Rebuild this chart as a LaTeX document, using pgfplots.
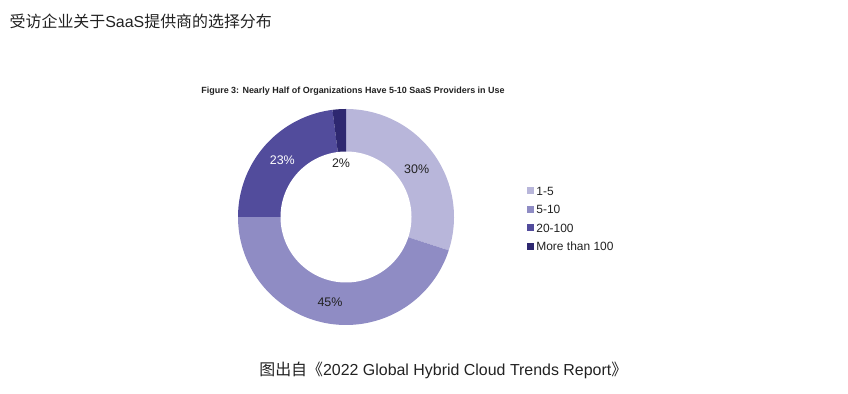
\documentclass[border=0pt]{standalone}
\usepackage{fontspec}
\setmainfont{Liberation Sans}
\newfontfamily\cjk{Noto Sans CJK SC}
\usepackage{pgfplots}
\usepackage{pgfplotstable}
\pgfplotsset{compat=1.18}
\definecolor{c1}{HTML}{B8B6DA}
\definecolor{c2}{HTML}{8F8CC4}
\definecolor{c3}{HTML}{524C9C}
\definecolor{c4}{HTML}{2E2870}
\definecolor{txt}{HTML}{222222}
\pgfplotstableread[col sep=comma]{
label,value
1-5,30
5-10,45
20-100,23
More than 100,2
}\shares
\begin{document}%
\begin{tikzpicture}
\pgfplotstablegetelem{0}{value}\of\shares \let\va\pgfplotsretval
\pgfplotstablegetelem{1}{value}\of\shares \let\vb\pgfplotsretval
\pgfplotstablegetelem{2}{value}\of\shares \let\vc\pgfplotsretval
\pgfplotstablegetelem{3}{value}\of\shares \let\vd\pgfplotsretval
\pgfmathsetmacro\aA{90}
\pgfmathsetmacro\aB{\aA-3.6*\va}
\pgfmathsetmacro\aC{\aB-3.6*\vb}
\pgfmathsetmacro\aD{\aC-3.6*\vc}
\pgfmathsetmacro\aE{\aD-3.6*\vd}
\def\cx{346}\def\cy{177}\def\R{108}\def\r{65.5}
\useasboundingbox (0,0) rectangle (848bp,394bp);
\begin{axis}[
  scale only axis, width=848bp, height=394bp,
  xmin=0, xmax=848, ymin=0, ymax=394,
  hide axis, clip=false, anchor=south west, at={(0,0)},
  legend cell align=left,
  legend image code/.code={\fill[#1] (0bp,-3.5bp) rectangle (7bp,3.5bp);},
  legend style={at={(0.6211,0.4458)}, anchor=west, draw=none, fill=none,
    inner sep=0pt, row sep=9.5bp, column sep=2.5bp,
    font=\fontsize{12}{12}\selectfont\color{txt},
    nodes={inner sep=0pt, text height=9bp, text depth=0pt}},
]
\addplot[fill=c1, draw=none, domain=\aA:\aB, samples=80, variable=\t]
  ({\cx+\R*cos(\t)},{\cy+\R*sin(\t)}) -- (\cx,\cy) -- cycle;
\addlegendentry{1-5}
\addplot[fill=c2, draw=none, domain=\aB:\aC, samples=100, variable=\t]
  ({\cx+\R*cos(\t)},{\cy+\R*sin(\t)}) -- (\cx,\cy) -- cycle;
\addlegendentry{5-10}
\addplot[fill=c3, draw=none, domain=\aC:\aD, samples=80, variable=\t]
  ({\cx+\R*cos(\t)},{\cy+\R*sin(\t)}) -- (\cx,\cy) -- cycle;
\addlegendentry{20-100}
\addplot[fill=c4, draw=none, domain=\aD:\aE, samples=10, variable=\t]
  ({\cx+\R*cos(\t)},{\cy+\R*sin(\t)}) -- (\cx,\cy) -- cycle;
\addlegendentry{More than 100}
\addplot[fill=white, draw=none, domain=0:360, samples=150, variable=\t, forget plot]
  ({\cx+\r*cos(\t)},{\cy+\r*sin(\t)}) -- cycle;
% percentage labels
\node[font=\fontsize{12.5}{12.5}\selectfont, text=txt] at (axis cs:416.7,225) {30\%};
\node[font=\fontsize{12.5}{12.5}\selectfont, text=txt] at (axis cs:330,92) {45\%};
\node[font=\fontsize{12.5}{12.5}\selectfont, text=white] at (axis cs:282.3,234) {23\%};
\node[font=\fontsize{12.5}{12.5}\selectfont, text=txt] at (axis cs:341,230.7) {2\%};
% titles
\node[anchor=base west, inner sep=0pt, font=\fontsize{16}{16}\selectfont, text=txt]
  at (axis cs:9.5,366) {\cjk 受访企业关于\rmfamily SaaS\cjk 提供商的选择分布};
\node[anchor=base, inner sep=0pt, font=\fontsize{9}{9}\selectfont\bfseries, text=txt]
  at (axis cs:353,300.5) {Figure 3: Nearly Half of Organizations Have 5-10 SaaS Providers in Use};
\node[anchor=base, inner sep=0pt, font=\fontsize{16}{16}\selectfont, text=txt]
  at (axis cs:443.3,19) {\cjk 图出自《\rmfamily 2022 Global Hybrid Cloud Trends Report\cjk 》};
\end{axis}
\end{tikzpicture}%
\end{document}
